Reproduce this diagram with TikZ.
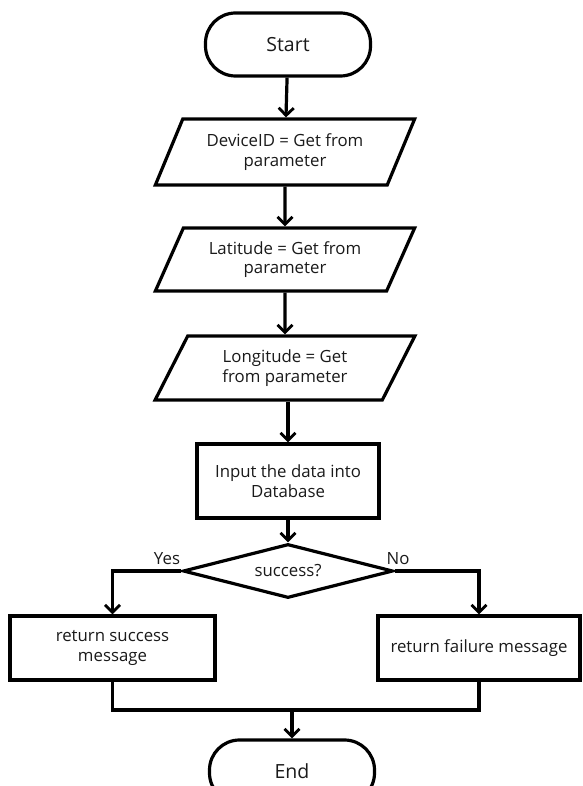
\documentclass[tikz,border=0pt]{standalone}
\usepackage{fontspec}
\setmainfont{Open Sans}
\usetikzlibrary{shapes.geometric,arrows.meta}
\definecolor{ink}{HTML}{1A1A1A}
\begin{document}
\begin{tikzpicture}[x=1pt,y=-1pt,
  lw/.style={line width=3.2pt,draw=black},
  arr/.style={lw,-{Straight Barb[length=7.5pt,width=15pt,line width=2.8pt]}},
  txt/.style={font=\fontsize{16.8}{19.5}\selectfont,align=center,text=ink},
  term/.style={draw,lw,rectangle,rounded corners=30pt,minimum width=165pt,minimum height=63pt,text=ink,font=\fontsize{19.5}{23}\selectfont},
  io/.style={draw,lw,trapezium,trapezium left angle=60,trapezium right angle=120,trapezium stretches=true,minimum width=260pt,txt,inner sep=0pt},
  proc/.style={draw,lw,rectangle,txt},
  dec/.style={draw,lw,diamond,minimum width=210pt,minimum height=54pt,inner sep=0pt,txt,aspect=3.9}
]
\useasboundingbox (0,0) rectangle (582,786);
\fill[white] (0,0) rectangle (582,786);
\clip (0,0) rectangle (582,786);
\node[term] (start) at (288,44.5) {Start};
\node[io,minimum height=66pt] (p1) at (285,152) {DeviceID = Get from\\parameter};
\node[io,minimum height=63pt] (p2) at (285,259.5) {Latitude = Get from\\parameter};
\node[io,minimum height=64pt] (p3) at (285,368) {Longitude = Get\\from parameter};
\node[proc,minimum width=182pt,minimum height=74pt] (db) at (288,481) {Input the data into\\Database};
\node[dec] (ok) at (288,571) {success?};
\node[proc,minimum width=205pt,minimum height=64pt] (ls) at (112.5,648) {return success\\message};
\node[proc,minimum width=202pt,minimum height=64pt] (rf) at (479,648) {return failure message};
\node[term] (end) at (292,771.5) {End};
\coordinate (m) at (292,710);
\node[txt] (yes) at (167,559) {Yes};
\node[txt] (no) at (398,559) {No};
\draw[arr] (start) -- (p1);
\draw[arr] (p1) -- (p2);
\draw[arr] (p2) -- (p3);
\draw[arr] (p3.south -| db.north) -- (db.north);
\draw[arr] (db) -- (ok);
\draw[arr] (ok.west) -| (ls.north);
\draw[arr] (ok.east) -| (rf.north);
\draw[lw] (ls.south) |- (m) -| (rf.south);
\draw[arr] (m) -- (end.north);
\end{tikzpicture}
\end{document}
